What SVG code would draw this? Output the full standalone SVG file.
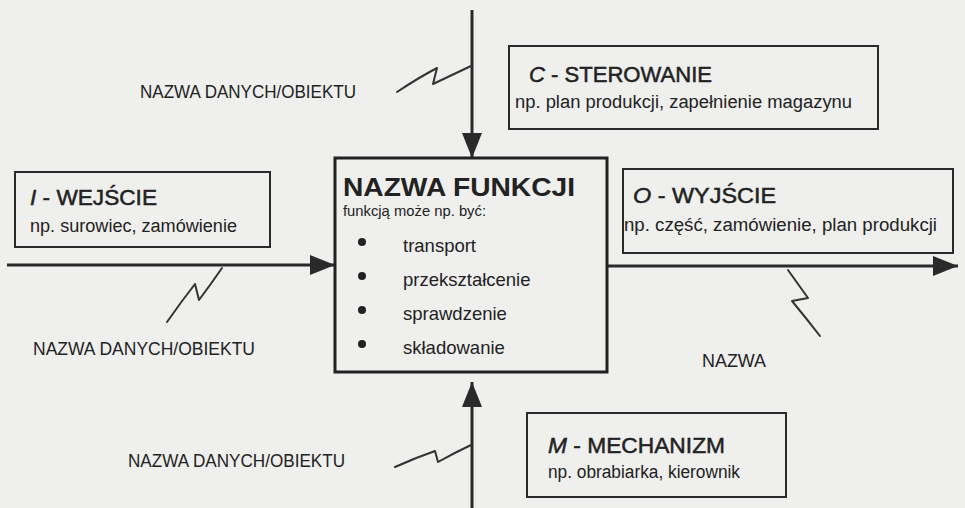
<svg xmlns="http://www.w3.org/2000/svg" width="965" height="508" viewBox="0 0 965 508">
<defs>
<style>
.bg{fill:#efefed}
.box{fill:none;stroke:#2a2a2a;stroke-width:2}
.main{fill:none;stroke:#222;stroke-width:3}
.line{fill:none;stroke:#2a2a2a;stroke-width:3}
.sq{fill:none;stroke:#333;stroke-width:2;stroke-linejoin:round;stroke-linecap:round}
text{font-family:"Liberation Sans",Arial,sans-serif;fill:#222}
.lbl{font-size:18px}
.ttl{font-size:22px;stroke:#222;stroke-width:0.5}
.sub{font-size:18px}
.it{font-style:italic}
.fn{font-size:25px;font-weight:bold}
.small{font-size:14px}
.li{font-size:18.5px}
</style>
<marker id="ah" markerUnits="userSpaceOnUse" markerWidth="26" markerHeight="22" refX="25" refY="11" orient="auto">
<path d="M0,1 L25,11 L0,21 z" fill="#2a2a2a"/>
</marker>
</defs>
<rect class="bg" x="0" y="0" width="965" height="508"/>

<g id="connectors">
<line class="line" x1="472" y1="10" x2="472" y2="158" marker-end="url(#ah)"/>
<line class="line" x1="7" y1="265" x2="335" y2="265" marker-end="url(#ah)"/>
<line class="line" x1="607" y1="266" x2="958" y2="266" marker-end="url(#ah)"/>
<line class="line" x1="472" y1="508" x2="472" y2="382" marker-end="url(#ah)"/>
<path class="sq" d="M397,92 Q418,78 437,68 L433,84 Q452,75 471,66"/>
<path class="sq" d="M167,322 Q181,302 195,284 L199,300 Q211,284 222,268"/>
<path class="sq" d="M788,270 Q798,284 808,298 L792,301 Q806,318 820,336"/>
<path class="sq" d="M395,467 Q415,458 435,451 L438,462 Q454,453 471,445"/>
<text class="lbl" x="140" y="98" textLength="216" lengthAdjust="spacingAndGlyphs">NAZWA DANYCH/OBIEKTU</text>
<text class="lbl" x="33" y="355" textLength="222" lengthAdjust="spacingAndGlyphs">NAZWA DANYCH/OBIEKTU</text>
<text class="lbl" x="128" y="467" textLength="217" lengthAdjust="spacingAndGlyphs">NAZWA DANYCH/OBIEKTU</text>
<text class="lbl" x="702" y="367" textLength="64" lengthAdjust="spacingAndGlyphs">NAZWA</text>
</g>

<g id="node-function">
<rect class="main" x="335" y="158" width="272" height="214"/>
<text class="fn" x="343" y="196" textLength="232" lengthAdjust="spacingAndGlyphs">NAZWA FUNKCJI</text>
<text class="small" x="343" y="216" textLength="143" lengthAdjust="spacingAndGlyphs">funkcją może np. być:</text>
<circle cx="362" cy="242" r="4" fill="#222"/>
<circle cx="362" cy="276" r="4" fill="#222"/>
<circle cx="362" cy="310" r="4" fill="#222"/>
<circle cx="362" cy="344" r="4" fill="#222"/>
<text class="li" x="403" y="252">transport</text>
<text class="li" x="403" y="286">przekształcenie</text>
<text class="li" x="403" y="320">sprawdzenie</text>
<text class="li" x="403" y="354">składowanie</text>
</g>

<g id="node-input">
<rect class="box" x="15" y="172" width="255" height="75"/>
<text class="ttl" x="30" y="205" textLength="127" lengthAdjust="spacingAndGlyphs"><tspan class="it">I</tspan> - WEJŚCIE</text>
<text class="sub" x="30" y="232" textLength="207" lengthAdjust="spacingAndGlyphs">np. surowiec, zamówienie</text>
</g>

<g id="node-control">
<rect class="box" x="509" y="46" width="369" height="83"/>
<text class="ttl" x="529" y="82" textLength="183" lengthAdjust="spacingAndGlyphs"><tspan class="it">C</tspan> - STEROWANIE</text>
<text class="sub" x="515" y="108" textLength="337" lengthAdjust="spacingAndGlyphs">np. plan produkcji, zapełnienie magazynu</text>
</g>

<g id="node-output">
<rect class="box" x="623" y="169" width="330" height="84"/>
<text class="ttl" x="633" y="203" textLength="143" lengthAdjust="spacingAndGlyphs"><tspan class="it">O</tspan> - WYJŚCIE</text>
<text class="sub" x="624" y="231" textLength="313" lengthAdjust="spacingAndGlyphs">np. część, zamówienie, plan produkcji</text>
</g>

<g id="node-mechanism">
<rect class="box" x="527" y="413" width="259" height="84"/>
<text class="ttl" x="548" y="453" textLength="177" lengthAdjust="spacingAndGlyphs"><tspan class="it">M</tspan> - MECHANIZM</text>
<text class="sub" x="548" y="478" textLength="192" lengthAdjust="spacingAndGlyphs">np. obrabiarka, kierownik</text>
</g>
</svg>
